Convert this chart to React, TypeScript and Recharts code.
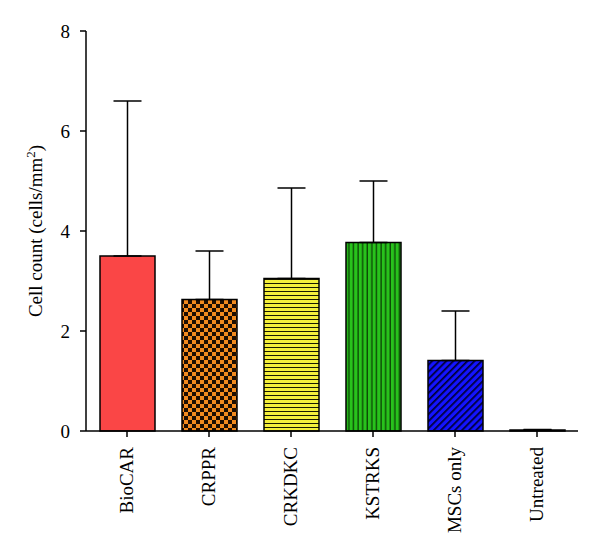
import React from 'react';
import { BarChart, Bar, XAxis, YAxis, Cell, ErrorBar, Label } from 'recharts';

const groups = ['BioCAR', 'CRPPR', 'CRKDKC', 'KSTRKS', 'MSCs only', 'Untreated'];
const means = [3.5, 2.63, 3.05, 3.77, 1.41, 0.02];
const upper = [6.6, 3.6, 4.86, 5.0, 2.4, 0.03];
const yTicks = [0, 2, 4, 6, 8];

const fills = ['#fa4646', 'url(#checker)', 'url(#hstripe)', 'url(#vstripe)', 'url(#diag)', '#ffffff'];

const data = groups.map((g, i) => ({
  group: g,
  mean: means[i],
  err: [0, upper[i] - means[i]],
}));

const font = '"Liberation Serif", "Times New Roman", serif';

const XTick = ({ x, y, payload }: any) => (
  <g transform={`translate(${x},${y + 8})`}>
    <text transform="rotate(-90)" textAnchor="end" dy={6} fontFamily={font} fontSize={19} fill="#000">
      {payload.value}
    </text>
  </g>
);

const YLabel = ({ viewBox }: any) => {
  const cy = viewBox.y + viewBox.height / 2;
  return (
    <text
      transform={`translate(42,${cy}) rotate(-90)`}
      textAnchor="middle"
      fontFamily={font}
      fontSize={19}
      fill="#000"
    >
      Cell count (cells/mm<tspan dy={-7} fontSize={13}>2</tspan>
      <tspan dy={7}>)</tspan>
    </text>
  );
};

export default function App() {
  return (
    <div style={{ position: 'absolute', left: 0, top: 0, background: '#fff' }}>
      <BarChart
        width={600}
        height={555}
        data={data}
        margin={{ top: 31, right: 22, left: 0, bottom: 0 }}
        barSize={55}
      >
        <defs>
          <pattern id="checker" patternUnits="userSpaceOnUse" width={8} height={8}>
            <rect width={8} height={8} fill="#f28a1e" />
            <rect width={4} height={4} fill="#1e0e02" />
            <rect x={4} y={4} width={4} height={4} fill="#1e0e02" />
          </pattern>
          <pattern id="hstripe" patternUnits="userSpaceOnUse" width={8} height={4}>
            <rect width={8} height={4} fill="#f5f03c" />
            <rect y={3} width={8} height={1.2} fill="#1a1a00" />
          </pattern>
          <pattern id="vstripe" patternUnits="userSpaceOnUse" width={4.6} height={8}>
            <rect width={4.6} height={8} fill="#28c21c" />
            <rect x={3.2} width={1.4} height={8} fill="#0c4a06" />
          </pattern>
          <pattern
            id="diag"
            patternUnits="userSpaceOnUse"
            width={5}
            height={5}
            patternTransform="rotate(45)"
          >
            <rect width={5} height={5} fill="#1414ff" />
            <rect width={1.7} height={5} fill="#000033" />
          </pattern>
        </defs>
        <XAxis
          dataKey="group"
          height={124}
          interval={0}
          tick={<XTick />}
          tickSize={6}
          axisLine={{ stroke: '#000', strokeWidth: 1.5 }}
          tickLine={{ stroke: '#000', strokeWidth: 1.5 }}
        />
        <YAxis
          width={86}
          domain={[0, 8]}
          ticks={yTicks}
          tickSize={6}
          tickMargin={10}
          axisLine={{ stroke: '#000', strokeWidth: 1.5 }}
          tickLine={{ stroke: '#000', strokeWidth: 1.5 }}
          tick={{ fill: '#000', fontSize: 19, fontFamily: font }}
        >
          <Label content={<YLabel />} />
        </YAxis>
        <Bar dataKey="mean" stroke="#000" strokeWidth={1.5} isAnimationActive={false}>
          {data.map((d, i) => (
            <Cell key={d.group} fill={fills[i]} />
          ))}
          <ErrorBar dataKey="err" direction="y" width={14} stroke="#000" strokeWidth={1.5} isAnimationActive={false} />
        </Bar>
      </BarChart>
    </div>
  );
}
